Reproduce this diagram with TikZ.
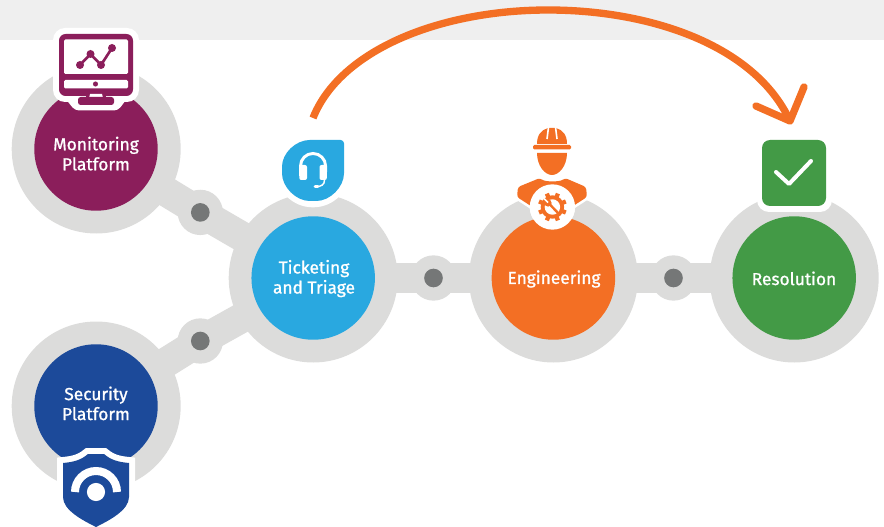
\documentclass[tikz,border=0pt]{standalone}
\usepackage{fontspec}
\setmainfont{Fira Sans}[FakeBold=1]
\usetikzlibrary{backgrounds}
\definecolor{cmon}{HTML}{8B1E5B}
\definecolor{csec}{HTML}{1C4A9A}
\definecolor{ctick}{HTML}{29A8E0}
\definecolor{ceng}{HTML}{F36F24}
\definecolor{cres}{HTML}{439A46}
\definecolor{cring}{HTML}{DCDCDB}
\definecolor{cjoin}{HTML}{757777}
\definecolor{cband}{HTML}{EFEFEF}
\tikzset{
  ring/.style={circle,fill=cring,minimum size=126.75pt,inner sep=0pt},
  core/.style={circle,minimum size=92.6pt,inner sep=0pt},
  hub/.style={circle,fill=cring,minimum size=34pt,inner sep=0pt},
  hubdot/.style={circle,fill=cjoin,minimum size=14pt,inner sep=0pt},
  link/.style={draw=cring,line width=22.5pt},
  label/.style={text=white,font=\fontsize{13}{15}\selectfont,align=center,inner sep=0pt},
  flow/.style={draw=ceng,line width=5.5pt}
}
\begin{document}
\begin{tikzpicture}[x=.75pt,y=-.75pt]
\useasboundingbox (0,0) rectangle (884,527);
\fill[cband] (0,0) rectangle (884,40);
% rings and hubs
\node[ring] (monR) at (96.2,149) {};
\node[ring] (secR) at (96.2,406) {};
\node[ring] (tickR) at (313.2,278) {};
\node[ring] (engR) at (553.4,278) {};
\node[ring] (resR) at (794.2,278) {};
\node[hub] (h1) at (200.3,212.4) {};
\node[hub] (h2) at (200.3,341) {};
\node[hub] (h3) at (433.5,278) {};
\node[hub] (h4) at (673.5,278) {};
\begin{pgfonlayer}{background}
\draw[link] (monR.center) -- (h1.center) -- (tickR.center);
\draw[link] (secR.center) -- (h2.center) -- (tickR.center);
\draw[link] (tickR.center) -- (h3.center) -- (engR.center);
\draw[link] (engR.center) -- (h4.center) -- (resR.center);
\end{pgfonlayer}
\node[hubdot] at (h1) {};
\node[hubdot] at (h2) {};
\node[hubdot] at (h3) {};
\node[hubdot] at (h4) {};
% engineering halo below the core
\fill[white,draw=white,line width=4pt,line join=round] (517,197) -- (518,187) -- (540,178) -- (565,178) -- (586,187) -- (587,197) -- (570,208) -- (534,208) -- cycle;
\fill[white] (552.4,207) circle[radius=17pt];
% cores
\node[core,fill=cmon] (mon) at (96,149) {};
\node[core,fill=csec] (sec) at (96,406) {};
\node[core,fill=ctick] (tick) at (313.2,278) {};
\node[core,fill=ceng] (eng) at (553.4,278) {};
\node[core,fill=cres] (res) at (794.2,278) {};
\node[label] (monT) at (96,153.6) {Monitoring\\Platform};
\node[label] (secT) at (96,403.4) {Security\\Platform};
\node[label] (tickT) at (314,278.6) {Ticketing\\and Triage};
\node[label] (engT) at (554,279) {Engineering};
\node[label] (resT) at (794,278.4) {Resolution};
% monitor icon
\fill[white,rounded corners=9pt] (53,28) rectangle (139,102);
\fill[white,rounded corners=3pt] (60,92) -- (132,92) -- (118,110.5) -- (75,110.5) -- cycle;
\fill[cmon,rounded corners=5pt] (59,34) rectangle (133,96);
\fill[white,rounded corners=1pt] (64,39.5) rectangle (128,74);
\fill[white,rounded corners=1pt] (64,80) rectangle (128,88.5);
\fill[cmon] (95.5,84) circle[radius=1.9pt];
\fill[cmon] (86,95) rectangle (106,98);
\fill[white] (90,94) -- (102,94) -- (103,98) -- (89,98) -- cycle;
\fill[cmon,rounded corners=2pt] (78,97) rectangle (114,105);
\draw[cmon,line width=2pt] (80,65) -- (90.5,54) -- (101,65) -- (112,48);
\foreach \px/\py in {80/65,90.5/54,101/65,112/48} \fill[cmon] (\px,\py) circle[radius=3pt];
% shield icon
\def\shieldpath{(63,463) .. controls (74,462) and (81,460) .. (88,454) -- (104,454) .. controls (111,460) and (118,462) .. (129,463) -- (129,497) .. controls (129,510) and (110,520) .. (96,527) .. controls (82,520) and (63,510) .. (63,497) -- cycle}
\draw[white,line width=9pt,fill=white] \shieldpath;
\fill[csec] \shieldpath;
\draw[white,line width=6pt] (75,492) arc[start angle=180,end angle=0,radius=15.75pt];
\fill[white] (96,492) circle[radius=6.8pt];
% headset icon
\fill[white] (313,170) circle[radius=28pt];
\fill[ctick,rounded corners=2.5pt] (344,170) -- (344,140) -- (313,140) .. controls (296,140) and (282,153) .. (282,170) .. controls (282,187) and (296,201) .. (313,201) .. controls (330,201) and (344,187) .. (344,170) -- cycle;
\draw[white,line width=2.2pt] (300.5,176) -- (300.5,166) arc[start angle=180,end angle=0,radius=9.4pt] -- (325.5,176);
\fill[white,rounded corners=1.5pt] (299.3,165) rectangle (307,180);
\fill[white,rounded corners=1.5pt] (319.5,165) rectangle (326.8,180);
\draw[white,line width=1.1pt] (324.5,180) .. controls (324.5,185) and (321,186.6) .. (316,186.6);
\draw[white,line width=2pt,line cap=round] (315,186.6) -- (318,186.6);
% worker icon
\fill[ceng] (537,144) .. controls (537,135) and (541,130) .. (548,128) -- (556,128) .. controls (563,130) and (567,135) .. (567,144) -- cycle;
\draw[white,line width=1.2pt] (548.5,127) -- (547,139);
\draw[white,line width=1.2pt] (555.5,127) -- (557,139);
\fill[ceng,rounded corners=1pt] (533,145) rectangle (571,149.5);
\fill[ceng] (537,153) -- (567,153) .. controls (567,166) and (559,175) .. (552,175) .. controls (545,175) and (537,166) .. (537,153) -- cycle;
\fill[ceng,rounded corners=2pt] (517,197) -- (518,187) -- (540,178) .. controls (545,182) and (560,182) .. (565,178) -- (586,187) -- (587,197) -- (570,208) -- (534,208) -- cycle;
\fill[white] (552.4,207) circle[radius=17pt];
\foreach \ang in {0,45,...,315} \draw[ceng,line width=3.2pt] (552.4,207) -- ++(\ang+22.5:14.5);
\fill[ceng] (552.4,207) circle[radius=8.8pt];
\fill[white] (552.4,207) circle[radius=5.8pt];
\draw[ceng,line width=1.8pt,line cap=round] (549.4,204) -- (558,213);
\fill[ceng] (548,203) circle[radius=2.7pt];
\draw[white,line width=1.2pt] (548,202.5) -- (544,198.5);
% check icon
\fill[white,rounded corners=9pt] (757,135) rectangle (832,212);
\fill[cres,rounded corners=6pt] (762,140) rectangle (826,206);
\draw[white,line width=3pt,line cap=round,line join=round] (776,172) -- (789,184) -- (811,161);
% flow arrow
\coordinate (fs) at (313,118);
\coordinate (fm) at (548,10);
\coordinate (fe) at (790,121);
\draw[flow] (fs) .. controls (340,50) and (440,10) .. (fm) .. controls (650,10) and (755,45) .. (fe);
\draw[flow,line cap=round,line join=round] (756,106) -- (fe) -- (804,87);
\end{tikzpicture}
\end{document}
